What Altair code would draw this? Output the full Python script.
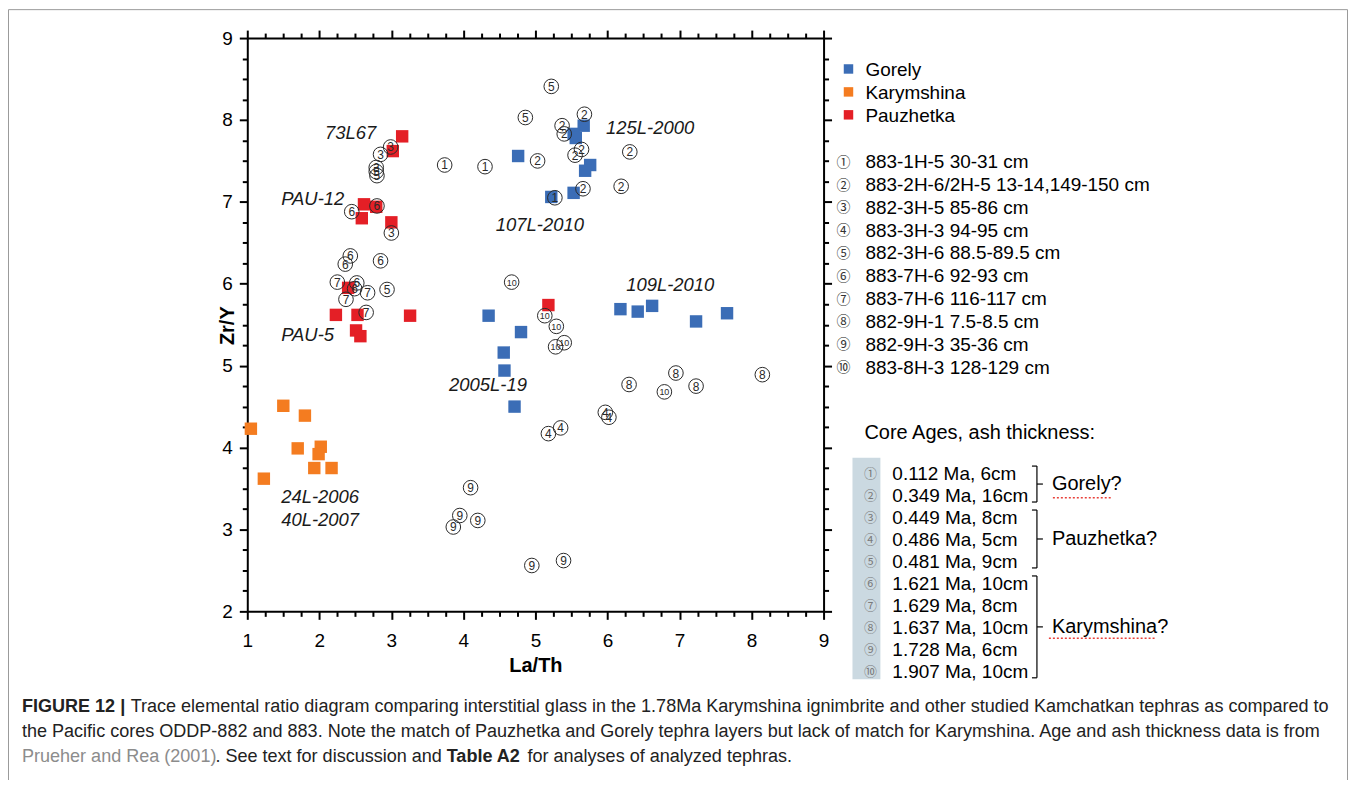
import altair as alt
import pandas as pd

FONT = "Liberation Sans"

# ---------------- data ----------------
groups = ["Gorely", "Karymshina", "Pauzhetka"]
group_colors = ["#3b6db6", "#f47c20", "#e41f26"]

gorely_x = [5.67, 5.53, 5.56, 4.76, 5.76, 5.69, 5.22, 5.53, 4.35, 4.80, 4.56, 4.57, 4.71, 6.18, 6.42, 6.62, 7.23, 7.66]
gorely_y = [7.93, 7.83, 7.78, 7.56, 7.45, 7.38, 7.06, 7.11, 5.61, 5.41, 5.16, 4.94, 4.50, 5.69, 5.66, 5.73, 5.54, 5.64]
karym_x = [1.50, 1.80, 1.05, 1.70, 2.02, 1.99, 1.93, 2.17, 1.23]
karym_y = [4.51, 4.39, 4.23, 3.99, 4.01, 3.92, 3.75, 3.75, 3.62]
pauz_x = [3.15, 3.02, 2.62, 2.79, 2.59, 3.00, 2.40, 2.23, 2.53, 3.26, 5.18, 2.51, 2.57]
pauz_y = [7.80, 7.62, 6.97, 6.94, 6.80, 6.75, 5.95, 5.62, 5.62, 5.61, 5.74, 5.43, 5.36]

core_id = [1, 1, 1,
           2, 2, 2, 2, 2, 2, 2, 2, 2,
           3, 3, 3, 3,
           4, 4, 4, 4,
           5, 5, 5, 5, 5,
           6, 6, 6, 6, 6, 6, 6,
           7, 7, 7, 7,
           8, 8, 8, 8,
           9, 9, 9, 9, 9, 9,
           10, 10, 10, 10, 10, 10]
core_x = [3.74, 4.30, 5.27,
          5.68, 5.37, 5.40, 5.64, 5.55, 5.03, 6.31, 5.66, 6.19,
          2.99, 2.85, 2.79, 3.00,
          5.97, 6.02, 5.35, 5.18,
          5.22, 4.86, 2.79, 2.80, 2.94,
          2.45, 2.80, 2.43, 2.36, 2.85, 2.52, 2.49,
          2.25, 2.67, 2.37, 2.65,
          6.95, 6.30, 7.23, 8.15,
          4.10, 3.95, 4.20, 3.86, 4.95, 5.39,
          4.67, 5.13, 5.29, 5.28, 5.40, 6.79]
core_y = [7.45, 7.43, 7.05,
          8.07, 7.93, 7.83, 7.64, 7.57, 7.50, 7.61, 7.16, 7.19,
          7.67, 7.58, 7.42, 6.62,
          4.43, 4.37, 4.24, 4.17,
          8.41, 8.03, 7.37, 7.32, 5.93,
          6.88, 6.95, 6.34, 6.24, 6.28, 6.01, 5.94,
          6.02, 5.89, 5.81, 5.65,
          4.91, 4.77, 4.75, 4.89,
          3.51, 3.17, 3.11, 3.03, 2.56, 2.62,
          6.02, 5.61, 5.48, 5.23, 5.28, 4.68]

ann_text = ["73L67", "125L-2000", "PAU-12", "107L-2010", "109L-2010", "PAU-5", "2005L-19", "24L-2006", "40L-2007"]
ann_x = [2.08, 5.98, 1.47, 4.45, 6.26, 1.47, 3.80, 1.47, 1.47]
ann_y = [7.84, 7.90, 7.03, 6.72, 5.98, 5.37, 4.76, 3.40, 3.12]

circled = ["①", "②", "③", "④", "⑤", "⑥", "⑦", "⑧", "⑨", "⑩"]
sample_labels = ["883-1H-5 30-31 cm", "883-2H-6/2H-5 13-14,149-150 cm", "882-3H-5 85-86 cm",
                 "883-3H-3 94-95 cm", "882-3H-6 88.5-89.5 cm", "883-7H-6 92-93 cm",
                 "883-7H-6 116-117 cm", "882-9H-1 7.5-8.5 cm", "882-9H-3 35-36 cm",
                 "883-8H-3 128-129 cm"]
core_ages = ["0.112 Ma, 6cm", "0.349 Ma, 16cm", "0.449 Ma, 8cm", "0.486 Ma, 5cm", "0.481 Ma, 9cm",
             "1.621 Ma, 10cm", "1.629 Ma, 8cm", "1.637 Ma, 10cm", "1.728 Ma, 6cm", "1.907 Ma, 10cm"]
age_groups = ["Gorely?", "Pauzhetka?", "Karymshina?"]
age_group_rows = [(0, 1), (2, 4), (5, 9)]

caption_l1_bold = "FIGURE 12 |"
caption_l1 = ("Trace elemental ratio diagram comparing interstitial glass in the 1.78Ma Karymshina "
              "ignimbrite and other studied Kamchatkan tephras as compared to")
caption_l2 = ("the Pacific cores ODDP-882 and 883. Note the match of Pauzhetka and Gorely tephra layers "
              "but lack of match for Karymshina. Age and ash thickness data is from")
caption_l3_ref = "Prueher and Rea (2001)"
caption_l3_a = ". See text for discussion and"
caption_l3_bold = "Table A2"
caption_l3_b = "for analyses of analyzed tephras."

# ---------------- layout ----------------
W, H = 578, 575
PAD = {"left": 240, "top": 29, "right": 527, "bottom": 168}

x_major = list(range(1, 10))
y_major = list(range(2, 10))
x_minor = [v / 4 for v in range(4, 37) if v % 4]
y_minor = [v / 4 for v in range(8, 37) if v % 4]

xs = alt.Scale(domain=[1, 9], nice=False, zero=False)
ys = alt.Scale(domain=[2, 9], nice=False, zero=False)

common = dict(grid=False, domainColor="black", domainWidth=2, tickColor="black", tickWidth=2,
              labelFont=FONT, labelColor="black", titleFont=FONT, titleColor="black")


def ax(orient, values, size, labels=False, domain=True, **kw):
    kw.setdefault("title", "")
    return alt.Axis(orient=orient, values=values, tickSize=size, labels=labels, domain=domain, **common, **kw)


ax_bottom = ax("bottom", x_major, 8, labels=True, labelFontSize=19, labelPadding=12, labelFlush=False,
               labelOverlap=False, format="d", title="La/Th", titleFontSize=20, titleFontWeight="bold",
               titleY=54, titleBaseline="middle")
ax_left = ax("left", y_major, 8, labels=True, labelFontSize=19, labelPadding=7, labelFlush=False,
             labelOverlap=False, format="d", title="Zr/Y", titleFontSize=20, titleFontWeight="bold",
             titleAngle=270, titleX=-20, titleY=288, titleAlign="center", titleBaseline="middle")

sq_df = pd.DataFrame({
    "x": gorely_x + karym_x + pauz_x,
    "y": gorely_y + karym_y + pauz_y,
    "group": ["Gorely"] * len(gorely_x) + ["Karymshina"] * len(karym_x) + ["Pauzhetka"] * len(pauz_x),
})
core_df = pd.DataFrame({"x": core_x, "y": core_y, "id": core_id})
ann_df = pd.DataFrame({"x": ann_x, "y": ann_y, "t": ann_text})
blank = pd.DataFrame({"k": [0]})

squares = alt.Chart(sq_df).mark_square(size=155, opacity=1).encode(
    x=alt.X("x:Q", scale=xs, axis=ax_bottom),
    y=alt.Y("y:Q", scale=ys, axis=ax_left),
    color=alt.Color("group:N", scale=alt.Scale(domain=groups, range=group_colors), legend=None),
)

circles = alt.Chart(core_df).mark_point(shape="circle", size=215, filled=False, color="#2a2a2a",
                                         strokeWidth=1, opacity=1).encode(
    x=alt.X("x:Q", scale=xs, axis=ax("bottom", x_minor, 5, domain=False)),
    y=alt.Y("y:Q", scale=ys, axis=ax("left", y_minor, 5, domain=False)),
)

numbers = alt.Chart(core_df).transform_calculate(
    fs="datum.id >= 10 ? 9 : 12"
).mark_text(font=FONT, color="#2a2a2a", baseline="middle", dy=0.5).encode(
    x=alt.X("x:Q", scale=xs, axis=ax("top", x_major, 8)),
    y=alt.Y("y:Q", scale=ys, axis=ax("right", y_major, 8)),
    text=alt.Text("id:N"),
    size=alt.Size("fs:Q", scale=None, legend=None),
)

annots = alt.Chart(ann_df).mark_text(font=FONT, fontSize=18.5, fontStyle="italic", align="left",
                                      baseline="middle", color="#1a1a1a").encode(
    x=alt.X("x:Q", scale=xs, axis=ax("top", x_minor, 5, domain=False)),
    y=alt.Y("y:Q", scale=ys, axis=ax("right", y_minor, 5, domain=False)),
    text="t:N",
)

layers = [squares, circles, numbers, annots]


def vtext(text, x, y, size, align="left", baseline="top", color="black", weight="normal",
          font=FONT, line_height=None, style="normal"):
    props = dict(font=font, fontSize=size, align=align, baseline=baseline, color=color,
                 fontWeight=weight, fontStyle=style)
    if line_height is not None:
        props["lineBreak"] = "\n"
        props["lineHeight"] = line_height
    return alt.Chart(blank).mark_text(**props).encode(
        x=alt.value(x), y=alt.value(y), text=alt.value(text))


def rule(x1, y1, x2, y2, color="black", w=1.2, dash=None):
    props = dict(color=color, strokeWidth=w)
    if dash:
        props["strokeDash"] = dash
    return alt.Chart(blank).mark_rule(**props).encode(
        x=alt.value(x1), x2=alt.value(x2), y=alt.value(y1), y2=alt.value(y2))


# figure frame
layers.append(alt.Chart(blank).mark_rect(fillOpacity=0, stroke="#9a9a9a", strokeWidth=1).encode(
    x=alt.value(-239.5), x2=alt.value(1103.5), y=alt.value(-28.5), y2=alt.value(800)))

# group legend
for i, (g, c) in enumerate(zip(groups, group_colors)):
    layers.append(alt.Chart(blank).mark_square(size=90, color=c, opacity=1).encode(
        x=alt.value(603), y=alt.value(31 + i * 23)))
layers.append(vtext("\n".join(groups), 620, 31 - 8.2, 19, line_height=23))

# sample legend
SROW0, SROWH = 123.7, 22.9
layers.append(vtext("\n".join(circled), 598, SROW0 - 5.7, 14, align="center", color="#333",
                    font="Noto Sans CJK JP", line_height=SROWH))
layers.append(vtext("\n".join(sample_labels), 620, SROW0 - 8.2, 19, line_height=SROWH))

# core ages block
ROW0, ROWH = 436.3, 22.04
layers.append(vtext("Core Ages, ash thickness:", 619, 395 - 8.6, 20))
layers.append(alt.Chart(blank).mark_rect(color="#cbd9e1").encode(
    x=alt.value(607), x2=alt.value(635), y=alt.value(421), y2=alt.value(643)))
layers.append(vtext("\n".join(circled), 625, ROW0 - 5.3, 13, align="center", color="#7a7a7a",
                    font="Noto Sans CJK JP", line_height=ROWH))
layers.append(vtext("\n".join(core_ages), 647, ROW0 - 8.2, 19, line_height=ROWH))

BX = 792
for (r0, r1), label in zip(age_group_rows, age_groups):
    top = ROW0 + r0 * ROWH - 7
    bot = ROW0 + r1 * ROWH + 7
    mid = (top + bot) / 2
    layers.append(rule(BX, top, BX, bot))
    layers.append(rule(BX - 5, top, BX, top))
    layers.append(rule(BX - 5, bot, BX, bot))
    layers.append(rule(BX, mid, BX + 6, mid))
    layers.append(vtext(label, 807, mid, 20, baseline="middle"))

# spell-check squiggles
layers.append(rule(808, 461, 868, 461, color="#e8413a", w=1.5, dash=[2, 2]))
layers.append(rule(804, 602, 912, 602, color="#e8413a", w=1.5, dash=[2, 2]))

# caption
CAP = 18.1
CC = "#222222"
layers.append(vtext(caption_l1_bold, -226, 671, CAP, baseline="middle", color=CC, weight="bold"))
layers.append(vtext(caption_l1, -117, 671, CAP, baseline="middle", color=CC))
layers.append(vtext(caption_l2, -226, 696, CAP, baseline="middle", color=CC))
layers.append(vtext(caption_l3_ref, -226, 721, CAP, baseline="middle", color="#8c8c8c"))
layers.append(vtext(caption_l3_a, -32, 721, CAP, baseline="middle", color=CC))
layers.append(vtext(caption_l3_bold, 200, 721, CAP, baseline="middle", color=CC, weight="bold"))
layers.append(vtext(caption_l3_b, 281, 721, CAP, baseline="middle", color=CC))

chart = alt.layer(*layers).resolve_axis(x="independent", y="independent").properties(
    width=W, height=H, padding=PAD, autosize=alt.AutoSizeParams(type="none"), background="white"
).configure_view(strokeWidth=0)

chart.save("out.html", embed_options={"renderer": "svg", "actions": False})
